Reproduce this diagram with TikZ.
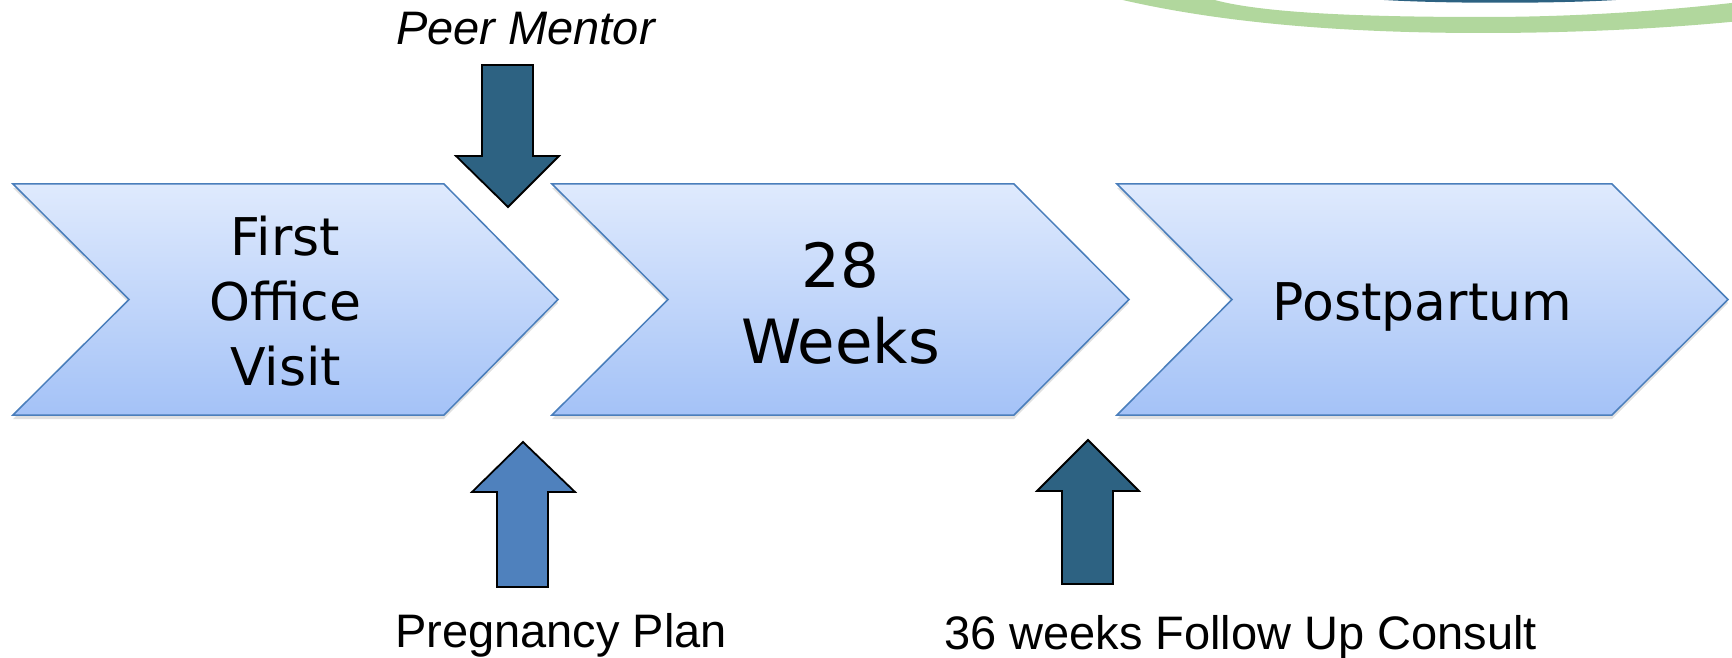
\documentclass[tikz,border=0pt]{standalone}
\usepackage{fontspec}
\setmainfont{DejaVu Sans}
\newfontfamily\labelfont{Liberation Sans}
\usepackage{xcolor}
\usetikzlibrary{positioning}

\definecolor{chevtop}{HTML}{DFEAFD}
\definecolor{chevbot}{HTML}{A4C2F7}
\definecolor{chevline}{HTML}{4A7EBB}
\definecolor{tealblue}{HTML}{2D6282}
\definecolor{midblue}{HTML}{4F81BD}
\definecolor{leafgreen}{HTML}{B1D79D}

\begin{document}
\begin{tikzpicture}[x=1pt,y=1pt]
			\tikzstyle{chevron}=[draw=chevline,line width=1.5pt,line join=miter,top color=chevtop,bottom color=chevbot]
			\tikzstyle{chevshadow}=[fill=black,opacity=.12]
			\tikzstyle{blockarrow}=[draw=black,line width=1.8pt,line join=miter]
			\tikzstyle{steptext}=[align=center,inner sep=0pt,font=\fontsize{52}{65}\selectfont]
			\tikzstyle{bigtext}=[align=center,inner sep=0pt,font=\fontsize{61}{76}\selectfont]
			\tikzstyle{note}=[inner sep=0pt,anchor=base,font=\labelfont\fontsize{47}{56}\selectfont]
			
			\useasboundingbox (0,0) rectangle (1732,657);
			
			% band in the top right corner
			\begin{scope}
				\clip (0,0) rectangle (1732,657);
				\fill[leafgreen] (1110,660) .. controls (1220,633) and (1350,624) .. (1483,624)
					.. controls (1590,624) and (1680,630) .. (1740,636) -- (1740,655)
					.. controls (1680,648) and (1590,640) .. (1483,640)
					.. controls (1360,640) and (1250,644) .. (1205,660) -- cycle;
				\fill[tealblue] (1370,658) .. controls (1430,653) and (1570,653) .. (1630,658) -- cycle;
			\end{scope}
			
			% chevrons: left, top right, tip, notch
			\foreach \l/\r/\t/\n in {13/444/558/129, 552/1014/1129/668, 1117/1612/1728/1232}{
				\fill[chevshadow] (\l,469) -- (\r,469) -- (\t,354) -- (\r,238) -- (\l,238) -- (\n,354) -- cycle;
				\path[chevron] (\l,473) -- (\r,473) -- (\t,357.5) -- (\r,242) -- (\l,242) -- (\n,357.5) -- cycle;
			}
			
			\node[steptext] (first) at (285.5,356) {First\\Office\\Visit};
			\node[bigtext] (weeks) at (840.5,354) {28\\Weeks};
			\node[steptext,anchor=base] (postpartum) at (1422.5,336.5) {Postpartum};
			
			% arrows
			\fill[tealblue,blockarrow] (482,592) -- (533,592) -- (533,501) -- (559,501) -- (508,450) -- (456,501) -- (482,501) -- cycle;
			\fill[midblue,blockarrow] (497,70) -- (548,70) -- (548,165) -- (575,165) -- (523,215) -- (472,165) -- (497,165) -- cycle;
			\fill[tealblue,blockarrow] (1062,73) -- (1113,73) -- (1113,166) -- (1139,166) -- (1088,217) -- (1037,166) -- (1062,166) -- cycle;
			
			\node[note,font=\labelfont\itshape\fontsize{47}{56}\selectfont] (mentor) at (525.5,612) {Peer Mentor};
			\node[note] (plan) at (561,10) {Pregnancy Plan};
			\node[note] (consult) at (1240.5,8) {36 weeks Follow Up Consult};
\end{tikzpicture}
\end{document}
